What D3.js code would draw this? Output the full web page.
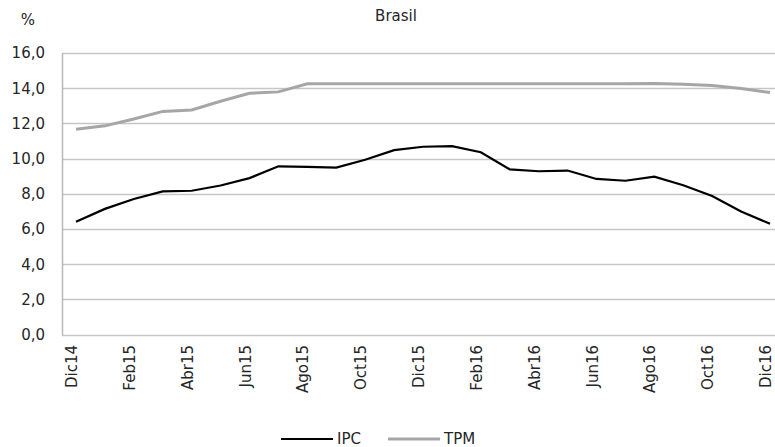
<!DOCTYPE html>
<html>
<head>
<meta charset="utf-8">
<script src="https://cdn.jsdelivr.net/npm/d3@7"></script>
<style>
  body { margin: 0; background: #fff; }
  text { font-family: "DejaVu Sans", sans-serif; fill: #262626; }
</style>
</head>
<body>
<div id="chart"></div>
<script>
// data
var months = ["Dic14","Ene15","Feb15","Mar15","Abr15","May15","Jun15","Jul15","Ago15","Sep15","Oct15","Nov15",
  "Dic15","Ene16","Feb16","Mar16","Abr16","May16","Jun16","Jul16","Ago16","Sep16","Oct16","Nov16","Dic16"];
var ipc = [6.41, 7.14, 7.70, 8.13, 8.17, 8.47, 8.89, 9.56, 9.53, 9.49, 9.93, 10.48,
  10.67, 10.71, 10.36, 9.39, 9.28, 9.32, 8.84, 8.74, 8.97, 8.48, 7.87, 6.99, 6.29];
var tpm = [11.67, 11.86, 12.25, 12.68, 12.76, 13.26, 13.71, 13.79, 14.25, 14.25, 14.25, 14.25,
  14.25, 14.25, 14.25, 14.25, 14.25, 14.25, 14.25, 14.25, 14.26, 14.23, 14.15, 13.98, 13.75];
var yTicks = [0, 2, 4, 6, 8, 10, 12, 14, 16];
var tickMonths = months.filter(function (d, i) { return i % 2 === 0; });

var W = 775, H = 447;
var margin = { top: 53, left: 62, bottom: 113 };
var plotRight = 785; // plot runs a little past the window edge
var height = H - margin.top - margin.bottom;

var svg = d3.select("#chart").append("svg")
  .attr("width", W).attr("height", H);

var x = d3.scalePoint().domain(months).range([76, 770]);
var y = d3.scaleLinear().domain([0, 16]).range([margin.top + height + 0.5, margin.top]);

// grid lines
svg.append("g")
  .selectAll("line")
  .data(yTicks)
  .enter()
  .append("line")
  .attr("x1", margin.left)
  .attr("x2", plotRight)
  .attr("y1", function (d) { return Math.round(y(d)) + 0.5; })
  .attr("y2", function (d) { return Math.round(y(d)) + 0.5; })
  .attr("stroke", "#c6c6c6")
  .attr("stroke-width", 1.5);

// left axis line
svg.append("line")
  .attr("x1", margin.left + 0.5).attr("x2", margin.left + 0.5)
  .attr("y1", y(16)).attr("y2", y(0) + 1)
  .attr("stroke", "#b8b8b8").attr("stroke-width", 1.5);

// y labels
var fmt = function (d) { return d3.format(".1f")(d).replace(".", ","); };
svg.append("g")
  .selectAll("text")
  .data(yTicks)
  .enter()
  .append("text")
  .attr("x", 45)
  .attr("y", function (d) { return y(d); })
  .attr("dy", "0.36em")
  .attr("text-anchor", "end")
  .style("font-size", "15px")
  .text(fmt);

// x labels, rotated
svg.append("g")
  .selectAll("text")
  .data(tickMonths)
  .enter()
  .append("text")
  .attr("transform", function (d) {
    return "translate(" + (x(d) + 1) + "," + 345 + ") rotate(-90)";
  })
  .attr("text-anchor", "end")
  .style("font-size", "15px")
  .text(function (d) { return d; });

// lines
var line = d3.line()
  .x(function (d, i) { return x(months[i]); })
  .y(function (d) { return y(d); });

svg.append("path")
  .datum(tpm)
  .attr("d", line)
  .attr("fill", "none")
  .attr("stroke", "#a6a6a6")
  .attr("stroke-width", 3);

svg.append("path")
  .datum(ipc)
  .attr("d", line)
  .attr("fill", "none")
  .attr("stroke", "#000")
  .attr("stroke-width", 2.2);

// titles
svg.append("text")
  .attr("x", 396).attr("y", 21)
  .attr("text-anchor", "middle")
  .style("font-size", "15px")
  .text("Brasil");
svg.append("text")
  .attr("x", 28).attr("y", 25)
  .attr("text-anchor", "middle")
  .style("font-size", "15px")
  .text("%");

// legend
var legendItems = [
  { name: "IPC", color: "#000", w: 2.2, x: 281 },
  { name: "TPM", color: "#a6a6a6", w: 3, x: 388 }
];
var lg = svg.append("g").selectAll("g").data(legendItems).enter().append("g");
lg.append("line")
  .attr("x1", function (d) { return d.x; })
  .attr("x2", function (d) { return d.x + 52; })
  .attr("y1", 439).attr("y2", 439)
  .attr("stroke", function (d) { return d.color; })
  .attr("stroke-width", function (d) { return d.w; });
lg.append("text")
  .attr("x", function (d) { return d.x + 56; })
  .attr("y", 444)
  .style("font-size", "15px")
  .text(function (d) { return d.name; });
</script>
</body>
</html>
